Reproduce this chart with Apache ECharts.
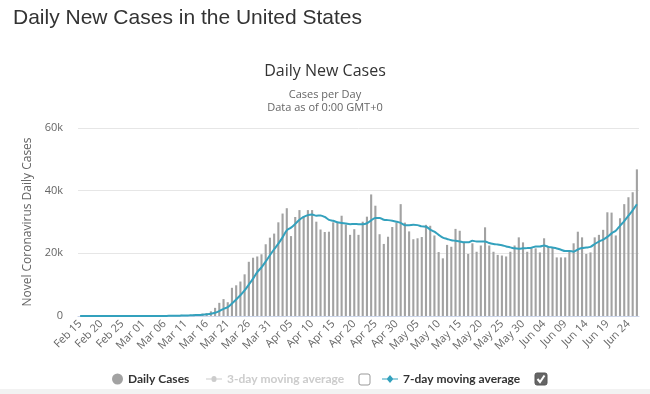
<!DOCTYPE html>
<html><head><meta charset="utf-8">
<script src="https://cdn.jsdelivr.net/npm/echarts@6/dist/echarts.min.js"></script>
<style>html,body{margin:0;padding:0;background:#fff}#c{width:650px;height:394px}</style>
</head><body><div id="c"></div>
<script>
// Dates Feb 15 .. Jun 26, 2020 (category labels)
const months = [["Feb",15,29],["Mar",1,31],["Apr",1,30],["May",1,31],["Jun",1,26]];
const categories = [];
months.forEach(([m,a,b])=>{for(let d=a;d<=b;d++)categories.push(m+" "+(d<10?"0"+d:d));});

const dailyCases = [
  0,0,0,0,0,0,1,0,0,2,0,0,0,0,0,
  8,23,20,31,68,45,140,116,65,376,322,382,516,548,772,
  900,1500,2600,4200,5400,4400,9000,9800,11000,13300,17300,18600,19000,19700,22900,25000,
  26300,29900,32700,34400,25500,31600,33800,31900,33800,33800,30100,27600,26800,26900,29900,29800,32000,29200,25900,27700,25900,30100,31700,38800,35200,26100,23000,25300,28400,29800,
  35700,29800,27000,24500,24800,25200,29100,28800,25700,20400,18400,22700,22100,27800,27200,23700,19800,23200,20500,22500,28300,22500,20500,19500,19300,19000,20500,22500,25100,23500,20500,
  21600,21600,20300,24800,22100,21900,18700,18700,18700,20500,23200,26900,25100,19800,20300,25100,25900,27500,33100,33000,25700,31200,35700,37900,39500,46800
];
const avg7 = [
  0,0,0,0,0,0,0,0,0,0,0,0,0,0,0,
  1,4,7,11,21,28,48,63,69,120,162,207,274,332,426,
  545,706,1031,1577,2274,2825,4000,5271,6629,8157,10029,11914,14000,15529,17400,19400,
  21300,23100,25100,27300,28200,29400,30700,31600,32200,32400,32000,32100,31600,30700,30400,29900,29700,29500,29300,29400,29300,29300,29600,30500,31300,31300,30700,30600,30400,30100,
  29700,29000,29000,29100,29000,28600,28500,27600,26900,25900,25000,24600,24200,24000,23800,23500,23500,24000,23800,23800,23800,23300,23000,22800,22600,22200,21900,21600,21500,21600,21700,
  21814,22186,22157,22486,22057,21829,21571,21157,20743,20771,20543,21229,21686,21843,22071,22986,23757,24371,25257,26386,27229,28786,30300,32014,33729,35686
];
const avg3 = [];
const yTicks = [0,20000,40000,60000];

const chart = echarts.init(document.getElementById('c'));
const FONT = '"Open Sans", "DejaVu Sans", sans-serif';
const LEG = {fontFamily:'Lato, sans-serif',fontWeight:'bold',fontSize:12,color:'#333'};
chart.setOption({
  animation:false,
  backgroundColor:'#fff',
  title:[
    {text:'Daily New Cases in the United States',left:8,top:3,textStyle:{fontFamily:'"Liberation Sans", Arial, sans-serif',fontSize:21,fontWeight:'normal',color:'#333'}},
    {text:'Daily New Cases',left:'center',top:58,textStyle:{fontFamily:FONT,fontSize:16,fontWeight:'normal',color:'#333'}},
    {text:'Cases per Day',left:'center',top:84,textStyle:{fontFamily:FONT,fontSize:11,fontWeight:'normal',color:'#666'}},
    {text:'Data as of 0:00 GMT+0',left:'center',top:97,textStyle:{fontFamily:FONT,fontSize:11,fontWeight:'normal',color:'#666'}}
  ],
  grid:{left:78,right:11,top:128,bottom:78},
  legend:[
    {data:[{name:'Daily Cases',icon:'circle'}],left:107,top:368,itemWidth:11,itemHeight:11,selectedMode:false,textStyle:LEG},
    {data:[{name:'3-day moving average',icon:'path://M0,4.5L5.5,4.5A2.5,2.5 0 0 1 10.5,4.5L16,4.5L16,5.5L10.5,5.5A2.5,2.5 0 0 1 5.5,5.5L0,5.5Z'}],
     left:201,top:368,itemWidth:16,itemHeight:10,selected:{'3-day moving average':false},inactiveColor:'#ccc',
     textStyle:Object.assign({},LEG,{color:'#ccc'})},
    {data:[{name:'7-day moving average',icon:'path://M0,4.5L5,4.5L8,1L11,4.5L16,4.5L16,5.5L11,5.5L8,9L5,5.5L0,5.5Z'}],
     left:377,top:368,itemWidth:16,itemHeight:10,textStyle:LEG}
  ],
  xAxis:{type:'category',data:categories,boundaryGap:true,
    axisLine:{lineStyle:{color:'#ccd6eb'}},axisTick:{show:false},
    axisLabel:{interval:4,rotate:45,fontFamily:FONT,fontSize:11,color:'#666',margin:6}},
  yAxis:{type:'value',min:yTicks[0],max:yTicks[yTicks.length-1],interval:20000,
    name:'Novel Coronavirus Daily Cases',nameLocation:'middle',nameGap:44,
    nameTextStyle:{fontFamily:FONT,fontSize:12,color:'#666'},
    axisLabel:{fontFamily:FONT,fontSize:11,color:'#666',margin:15,formatter:v=>v===0?'0':(v/1000)+'k'},
    splitLine:{lineStyle:{color:'#e6e6e6'}}},
  series:[
    {name:'Daily Cases',type:'bar',data:dailyCases,barWidth:'50%',itemStyle:{color:'#a2a2a2'}},
    {name:'3-day moving average',type:'line',data:avg3,itemStyle:{color:'#bbb'}},
    {name:'7-day moving average',type:'line',data:avg7,smooth:0.3,showSymbol:false,symbol:'none',
     lineStyle:{color:'#33a1bd',width:2},itemStyle:{color:'#33a1bd'}}
  ],
  graphic:[
    {type:'rect',shape:{x:359,y:374,width:11,height:11,r:2},style:{fill:'#fff',stroke:'#999',lineWidth:1}},
    {type:'rect',shape:{x:535,y:373,width:12,height:12,r:2},style:{fill:'#666',stroke:'#555',lineWidth:1}},
    {type:'polyline',shape:{points:[[537.5,379],[540,382],[544.5,375.5]]},style:{stroke:'#fff',lineWidth:2,fill:null}},
    {type:'rect',shape:{x:0,y:389,width:650,height:5},style:{fill:'#f2f2f2'}}
  ]
});
</script></body></html>
